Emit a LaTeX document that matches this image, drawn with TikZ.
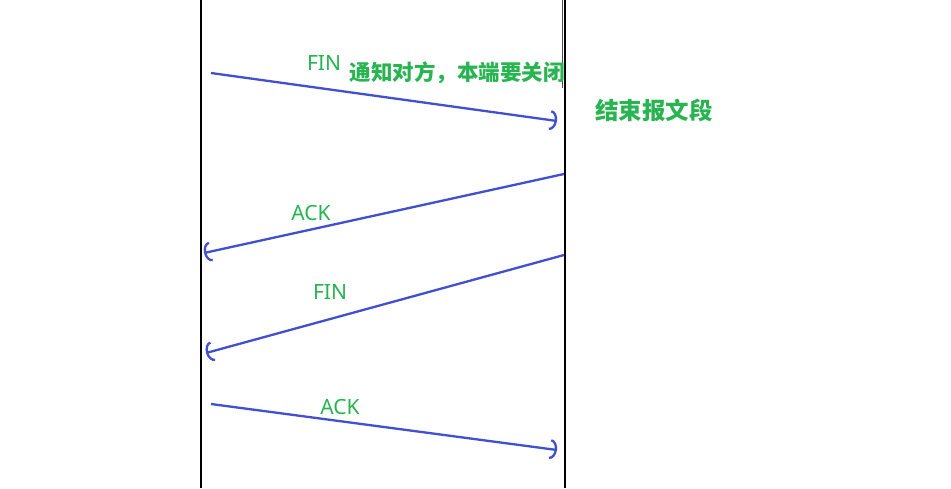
\documentclass[tikz,border=0pt]{standalone}
\usepackage{fontspec}
\setmainfont{Noto Sans}
\newfontfamily\cjk{Noto Sans CJK SC}
\usetikzlibrary{arrows.meta}
\definecolor{msgblue}{RGB}{64,80,208}
\definecolor{lblgreen}{RGB}{40,180,80}
\begin{document}
\begin{tikzpicture}[x=1pt,y=-1pt,
  lifeline/.style={line width=2.2pt,black},
  msg/.style={line width=2.3pt,msgblue,-{Arc Barb[length=7pt,width=20pt,line width=2.3pt]}},
  lbl/.style={text=lblgreen,font=\fontsize{21}{21}\selectfont,inner sep=0pt},
  cjklbl/.style={text=lblgreen,font=\cjk\bfseries\fontsize{21.5}{21.5}\selectfont,inner sep=0pt},
  biglbl/.style={text=lblgreen,font=\cjk\bfseries\fontsize{23.5}{23.5}\selectfont,inner sep=0pt}]
\useasboundingbox[fill=white] (0,0) rectangle (951,488);
% lifelines
\coordinate (LT) at (201,0);
\coordinate (LB) at (201,488);
\coordinate (RT) at (565,0);
\coordinate (RB) at (565,488);
\draw[lifeline] (LT) -- (LB);
\draw[lifeline] (RT) -- (RB);
\coordinate (RTa) at (562.5,0);
\coordinate (RTb) at (562.5,88);
\draw[line width=0.8pt,black!70] (RTa) -- (RTb);
% message endpoints
\coordinate (a1) at (211,73);
\coordinate (b1) at (557,121);
\coordinate (a2) at (564,174);
\coordinate (b2) at (204,253);
\coordinate (a3) at (564,255);
\coordinate (b3) at (206,353);
\coordinate (a4) at (211,404);
\coordinate (b4) at (557,450);
\draw[msg] (a1) -- (b1);
\draw[msg] (a2) -- (b2);
\draw[msg] (a3) -- (b3);
\draw[msg] (a4) -- (b4);
% labels
\node[lbl] (fin1) at (324,63) {FIN};
\node[cjklbl] (note) at (457,73) {通知对方，本端要关闭};
\node[biglbl] (endseg) at (654,110) {结束报文段};
\node[lbl] (ack1) at (311,213) {ACK};
\node[lbl] (fin2) at (330,292) {FIN};
\node[lbl] (ack2) at (340,407) {ACK};
\end{tikzpicture}
\end{document}
